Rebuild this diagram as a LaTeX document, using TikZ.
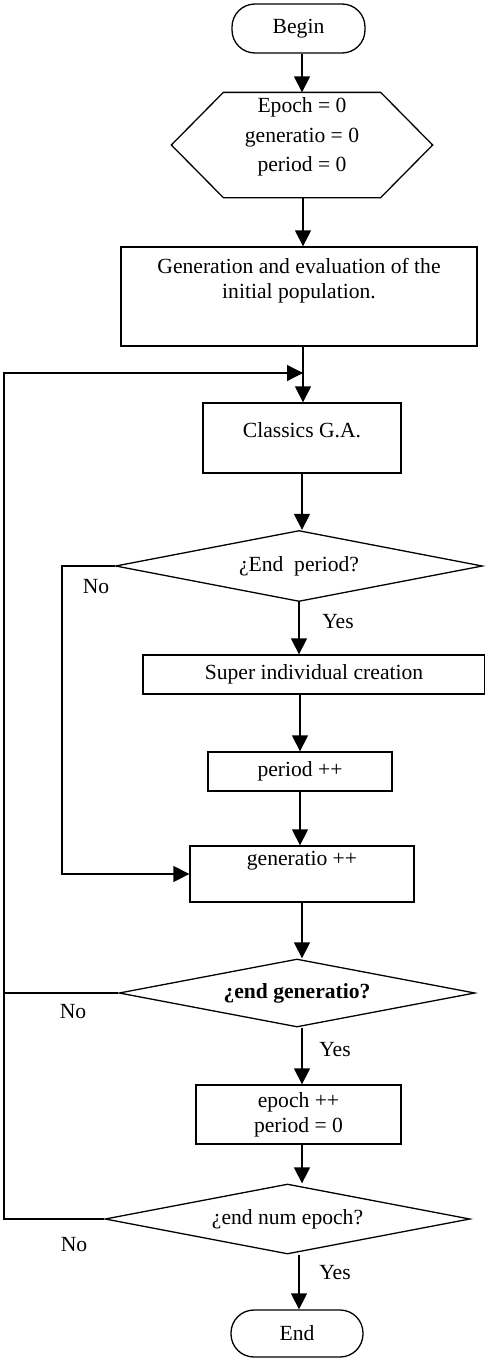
\documentclass[tikz,border=0pt]{standalone}
\usepackage{fontspec}
\setmainfont{Liberation Serif}
\usetikzlibrary{positioning,shapes.geometric,arrows.meta}

\begin{document}
\begin{tikzpicture}[x=0.5pt,y=-0.5pt,
  font=\fontsize{10.8pt}{12.5pt}\selectfont,
  line width=0.65pt,
  box/.style={draw, rectangle, inner sep=0pt},
  term/.style={draw, rectangle, rounded corners=11.5pt, inner sep=0pt},
  decision/.style={draw, diamond, aspect=5.2, inner sep=0pt},
  txt/.style={inner sep=0pt, align=center},
  arr/.style={-{Triangle[length=8pt,width=8pt]}}]
\useasboundingbox (0,0) rectangle (485,1360);
% start and set-up
\node[term, minimum width=66.5pt, minimum height=24.5pt] (begin) at (298.5,28.5) {Begin};
\node[minimum width=130pt, minimum height=52pt, inner sep=0pt] (hex) at (302,145) {};
\draw (hex.west) -- ([xshift=26pt]hex.north west) -- ([xshift=-26pt]hex.north east) -- (hex.east)
  -- ([xshift=-26pt]hex.south east) -- ([xshift=26pt]hex.south west) -- cycle;
\node[txt] (hextxt) at (302,137) {Epoch = 0\\[2.25pt] generatio = 0\\[2.25pt] period = 0};
\node[box, minimum width=178pt, minimum height=49.5pt] (init) at (299,296.5) {};
\node[txt] (inittxt) at (299,280.5) {Generation and evaluation of the\\ initial population.};
% main loop
\coordinate (merge) at (303,373);
\coordinate (back) at (4,373);
\node[box, minimum width=99pt, minimum height=35pt] (classics) at (302,438) {};
\node[txt] (classicstxt) at (302,430) {Classics G.A.};
\node[decision, minimum width=183.5pt, minimum height=35.5pt] (endper) at (299,566) {¿End~ period?};
\node[box, minimum width=171pt, minimum height=19.5pt] (super) at (314,674.5) {Super individual creation};
\node[box, minimum width=92pt, minimum height=19.5pt] (period) at (300,771.5) {period ++};
\node[box, minimum width=112pt, minimum height=28pt] (gen) at (302,874) {};
\node[txt] (gentxt) at (302,861) {generatio ++};
\node[decision, minimum width=178pt, minimum height=34pt] (endgen) at (297,993) {\bfseries ¿end generatio?};
\node[box, minimum width=102.5pt, minimum height=29.5pt, align=center] (epoch) at (298.5,1114.5) {epoch ++\\ period = 0};
\node[decision, minimum width=182.5pt, minimum height=35pt] (endep) at (287.5,1219) {¿end num epoch?};
\node[term, minimum width=66pt, minimum height=23.5pt] (endn) at (297,1333.5) {End};
\coordinate (nobend) at (62,566);
% labels
\node[txt] (no1) at (96,587) {No};
\node[txt] (yes1) at (338,622) {Yes};
\node[txt] (no2) at (73,1012) {No};
\node[txt] (yes2) at (335,1050) {Yes};
\node[txt] (no3) at (74,1245) {No};
\node[txt] (yes3) at (335,1273) {Yes};
% connectors
\draw[arr] (begin.south -| hex) -- (hex.north);
\draw[arr] (hex.south -| merge) -- (merge |- init.north);
\draw (init.south -| merge) -- (merge);
\draw[arr] (merge) -- (merge |- classics.north);
\draw[arr] (classics) -- (classics |- endper.north);
\draw[arr] (endper) -- (endper |- super.north);
\draw[arr] (period |- super.south) -- (period);
\draw[arr] (period) -- (period |- gen.north);
\draw[arr] (gen) -- (gen |- endgen.north);
\draw[arr] (endgen.south -| gen) -- (epoch.north -| gen);
\draw[arr] (epoch.south -| classics) -- (classics |- endep.north);
\draw[arr] (endep.south -| endper) -- (endper |- endn.north);
\draw[arr] (endper.west) -- (nobend) |- (gen.west);
\draw (endgen.west) -- (endgen.west -| back);
\draw[arr] (endep.west) -| (back) -- (merge);
\end{tikzpicture}
\end{document}
